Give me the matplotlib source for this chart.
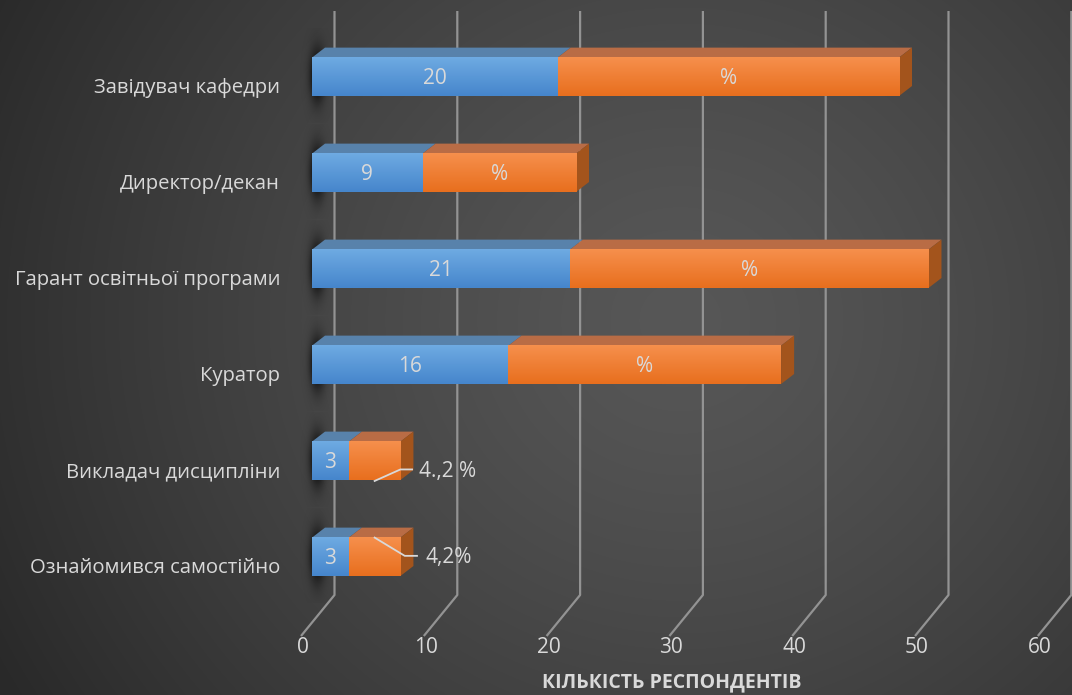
import matplotlib
matplotlib.use('Agg')
import matplotlib.pyplot as plt
import matplotlib.transforms as mtransforms
from matplotlib.patches import Polygon
import numpy as np

plt.rcParams['font.family'] = ['Open Sans', 'DejaVu Sans']

# дані
categories = ['Завідувач кафедри', 'Директор/декан', 'Гарант освітньої програми',
              'Куратор', 'Викладач дисципліни', 'Ознайомився самостійно']
counts = [20, 9, 21, 16, 3, 3]
percents = [27.8, 12.5, 29.2, 22.2, 4.2, 4.2]
pct_labels = ['%', '%', '%', '%', '4.,2 %', '4,2%']
x_ticks = [0, 10, 20, 30, 40, 50, 60]
x_title = 'КІЛЬКІСТЬ РЕСПОНДЕНТІВ'

TXT = '#d9d9d9'
GRID = '#939393'
BAR_H = 0.4
DX, DY = 1.06, 0.104       # глибина 3D

W, H = 1072, 695
fig = plt.figure(figsize=(W / 100, H / 100), dpi=100)

# фон - радіальний градієнт
bg = fig.add_axes([0, 0, 1, 1], zorder=-5)
yy, xx = np.mgrid[0:H, 0:W]
r = np.sqrt(((xx - 680) / 1.0) ** 2 + ((yy - 320) / 0.95) ** 2) / 780
r = np.clip(r, 0, 1) ** 1.3
val = (0x57 - (0x57 - 0x29) * r) / 255
bg.imshow(np.dstack([val, val, val]), aspect='auto', extent=(0, 1, 0, 1))
bg.axis('off')

px = 12.28  # пікселів на одиницю
ax = fig.add_axes([312 / W, 1 - 636 / H, (W - 312) / W, 636 / H])
ax.patch.set_alpha(0)
for s in ax.spines.values():
    s.set_visible(False)
xmax = (W - 312) / px
ytop, ybot = -0.8, -0.8 + 636 / 96


def vgrad(c1, c2, n=32):
    c1 = np.array(matplotlib.colors.to_rgb(c1))
    c2 = np.array(matplotlib.colors.to_rgb(c2))
    t = np.linspace(0, 1, n)[:, None]
    return (c1 * (1 - t) + c2 * t)[:, None, :]


# лінії сітки (задня стінка + підлога)
floor_back = -0.8 + 595 / 96
for v in x_ticks:
    xb = v + 22.5 / px
    xf = v - 11 / px
    ax.plot([xb, xb, xf], [-0.8 + 11 / 96, floor_back, ybot], color=GRID, lw=1.6,
            zorder=1, clip_on=False, solid_capstyle='butt')

# тіні
gy, gx = np.mgrid[-1:1:120j, -1:1:60j]
blob = np.exp(-(gx ** 2) / 0.12 - (gy ** 2) / 0.28)
shadow = np.zeros((120, 60, 4))
shadow[..., 3] = np.clip(blob * 1.05, 0, 0.95)

blue_face = vgrad('#6eaae2', '#4686cc')
orange_face = vgrad('#f68f4c', '#e86f1e')

for i in range(len(categories)):
    y = i
    sh = ax.imshow(shadow, extent=(-1.3, 2.2, y + 0.48, y - 0.5), aspect='auto',
                   zorder=2, interpolation='bilinear')
    sh.set_clip_on(False)
    segs = [(0, counts[i], blue_face, '#5882ab'),
            (counts[i], counts[i] + percents[i], orange_face, '#b96c45')]
    t, b = y - BAR_H / 2, y + BAR_H / 2
    for l, rr, face, top in segs:
        ax.add_patch(Polygon([(l, t), (rr, t), (rr + DX, t - DY), (l + DX, t - DY)],
                             closed=True, fc=top, ec='none', zorder=3))
        ax.imshow(face, extent=(l, rr, b, t), aspect='auto', zorder=4,
                  interpolation='bilinear')
    end = counts[i] + percents[i]
    side = Polygon([(end, t), (end + DX, t - DY), (end + DX, b - DY), (end, b)],
                   closed=True, fc='#a3541c', ec='none', zorder=3)
    ax.add_patch(side)

    # підписи значень
    ax.text(counts[i] / 2, y + 0.02, str(counts[i]), ha='center', va='center',
            color=TXT, fontsize=15, zorder=6)
    if percents[i] > 8:
        ax.text(counts[i] + percents[i] / 2, y + 0.02, pct_labels[i], ha='center',
                va='center', color=TXT, fontsize=15, zorder=6)

# виноски для малих значень
mid5 = counts[4] + percents[4] / 2
end5 = counts[4] + percents[4]
ax.plot([mid5, end5, end5 + 0.95], [4 + BAR_H / 2 + 0.01, 4 + 0.09, 4 + 0.09],
        color=TXT, lw=1.3, zorder=7)
ax.text(end5 + 1.5, 4 + 0.11, pct_labels[4], ha='left', va='center', color=TXT,
        fontsize=15, zorder=7)
mid6 = counts[5] + percents[5] / 2
end6 = counts[5] + percents[5]
ax.plot([mid6, end6 + 0.35, end6 + 1.35], [5 - BAR_H / 2, 5 - 0.01, 5 - 0.01],
        color=TXT, lw=1.3, zorder=7)
ax.text(end6 + 2.05, 5 + 0.01, pct_labels[5], ha='left', va='center', color=TXT,
        fontsize=15, zorder=7)

# осі
ax.set_xlim(0, xmax)
ax.set_ylim(ybot, ytop)
ax.set_xticks(x_ticks, [str(v) for v in x_ticks])
ax.set_yticks(range(len(categories)), categories)
ax.tick_params(axis='x', length=0, pad=1, labelsize=15, labelcolor=TXT)
ax.tick_params(axis='y', length=0, pad=23, labelsize=14.6, labelcolor=TXT)
sx = mtransforms.ScaledTranslation(-9 / 100, 0, fig.dpi_scale_trans)
for lab in ax.get_xticklabels():
    lab.set_transform(lab.get_transform() + sx)
sy = mtransforms.ScaledTranslation(0, -9 / 100, fig.dpi_scale_trans)
for lab in ax.get_yticklabels():
    lab.set_transform(lab.get_transform() + sy)

ax.set_xlabel(x_title, fontsize=14, fontweight='bold', color=TXT, va='center')
ax.xaxis.set_label_coords((672 - 312) / (W - 312), -(682 - 636) / 636)

fig.savefig('out.png', dpi=100)
